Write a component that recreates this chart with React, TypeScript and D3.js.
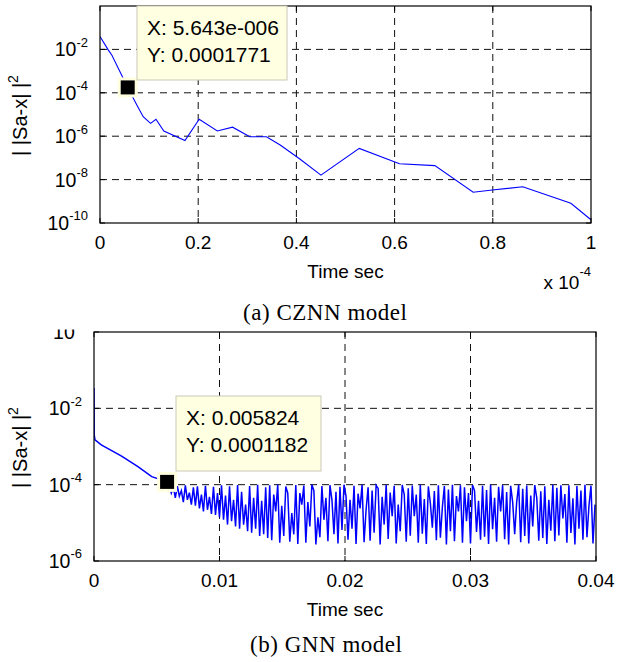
import React from 'react';
import * as d3 from 'd3';

// (a) CZNN model: time in units of 1e-4 s
const cznnTime = [0, 0.017, 0.024, 0.05643, 0.075, 0.088, 0.103, 0.114, 0.13, 0.173, 0.202, 0.239, 0.27, 0.305,
  0.339, 0.367, 0.407, 0.45, 0.528, 0.61, 0.682, 0.76, 0.799, 0.861, 0.959, 1.0];
const cznnErr = [3.9e-2, 9.3e-3, 5.5e-3, 1.771e-4, 2.75e-5, 7.9e-6, 3.9e-6, 6.0e-6, 1.74e-6, 6.3e-7, 6.0e-6, 1.74e-6,
  2.6e-6, 9.5e-7, 9.5e-7, 3.9e-7, 8.9e-8, 1.6e-8, 2.75e-7, 5.4e-8, 4.4e-8, 2.6e-9, 3.3e-9, 4.7e-9, 8.1e-10, 1.4e-10];
const cznnXTicks = [0, 0.2, 0.4, 0.6, 0.8, 1];
const cznnYExp = [-2, -4, -6, -8, -10];

// (b) GNN model: smooth start, then oscillation
const gnnHeadTime = [0, 0.00002, 0.00008, 0.00058, 0.0022, 0.0035, 0.0046, 0.005824];
const gnnHeadErr = [3.4e-2, 2.0e-3, 1.5e-3, 1.1e-3, 5.6e-4, 2.95e-4, 1.62e-4, 1.182e-4];
const gnnNoiseStart = 0.006;
const gnnNoiseStep = 0.00016;
// oscillating error in units of 1e-6
const gnnNoiseMicro = [
  95, 60, 88, 45, 92, 50, 70, 35, 96, 40, 62, 30, 85, 28, 90, 24, 55, 20, 94, 22, 48, 17, 88, 16, 60,
  14, 97, 12, 52, 9, 90, 11, 40, 8, 98, 7, 65, 9, 30, 6, 92, 5.5, 45, 7, 99, 4.5, 38, 5, 85, 4,
  96, 3.5, 55, 20, 100, 3, 28, 4.5, 90, 60,
  3.2, 18, 5, 98, 2.8, 60, 30, 95, 3, 35,
  8, 99, 70, 2.7, 14, 4.2, 92, 12, 45, 3.3,
  97, 40, 5, 65, 2.9, 88, 6.5, 100, 50, 3.6,
  40, 7, 94, 2.8, 58, 24, 99, 3.1, 22, 85,
  3.4, 70, 5.5, 96, 80, 2.7, 48, 9, 100, 3.8,
  62, 15, 93, 2.9, 30, 6, 98, 55, 3.2, 80,
  4.6, 95, 15, 55, 3, 99, 5.2, 42, 2.8, 90,
  33, 7.5, 68, 3.5, 97, 4.1, 26, 92, 2.7, 75,
  6, 100, 3.3, 50, 20, 96, 3, 85, 11, 60,
  2.9, 98, 70, 5.8, 38, 3.6, 94, 4.3, 72, 2.8,
  99, 6.8, 45, 3.2, 88, 20, 97, 3.7, 64, 2.7,
  93, 35, 5, 35, 100, 3.1, 78, 4.5, 95, 2.9,
  52, 8, 98, 45, 3.4, 67, 4, 91, 2.8, 40,
  6.2, 99, 3.3, 83, 4.7, 96, 13, 57, 3, 97,
  5.4, 44, 2.7, 92, 7, 70, 3.6, 100, 4.2, 28,
  94, 2.9, 30,
];
const gnnXTicks = [0, 0.01, 0.02, 0.03, 0.04];
const gnnYExp = [0, -2, -4, -6];

const FONT = 'Arial, "Liberation Sans", sans-serif';
const SERIF = '"Times New Roman", "Liberation Serif", serif';

type Pt = [number, number];

function Panel({ x, y, pts, xTicks, yExp, fmt, tip, id, topClip, lw }: {
  x: d3.ScaleLinear<number, number>; y: d3.ScaleLogarithmic<number, number>; pts: Pt[];
  xTicks: number[]; yExp: number[]; fmt: (v: number) => string;
  tip: { x: string; y: string; box: [number, number, number, number]; pt: Pt }; id: string; topClip?: number; lw: number;
}) {
  const [x0, x1] = x.range();
  const [y1, y0] = y.range();
  const line = d3.line<Pt>().x(d => x(d[0])).y(d => y(d[1]));
  const [bx, by, bw, bh] = tip.box;
  const mx = x(tip.pt[0]);
  const my = y(tip.pt[1]);
  return (
    <g>
      <defs>
        <clipPath id={id}><rect x={x0} y={y0} width={x1 - x0} height={y1 - y0} /></clipPath>
        {topClip !== undefined && <clipPath id={id + 'l'}><rect x={0} y={topClip} width={100} height={300} /></clipPath>}
      </defs>
      {xTicks.slice(1, -1).map(t => (
        <line key={'gx' + t} x1={x(t)} x2={x(t)} y1={y0} y2={y1} stroke="#111" strokeDasharray="7,5" />
      ))}
      {yExp.filter(e => y(10 ** e) > y0 + 1 && y(10 ** e) < y1 - 1).map(e => (
        <line key={'gy' + e} x1={x0} x2={x1} y1={y(10 ** e)} y2={y(10 ** e)} stroke="#111" strokeDasharray="7,5" />
      ))}
      <path d={line(pts) || ''} fill="none" stroke="#0000ff" strokeWidth={lw} clipPath={`url(#${id})`} />
      <rect x={x0} y={y0} width={x1 - x0} height={y1 - y0} fill="none" stroke="#000" strokeWidth={1.2} />
      {xTicks.map(t => (
        <g key={'tx' + t}>
          <line x1={x(t)} x2={x(t)} y1={y1} y2={y1 - 5} stroke="#000" />
          <line x1={x(t)} x2={x(t)} y1={y0} y2={y0 + 5} stroke="#000" />
          <text x={x(t)} y={y1 + 26} textAnchor="middle" fontFamily={FONT} fontSize={19}>{fmt(t)}</text>
        </g>
      ))}
      <g clipPath={topClip !== undefined ? `url(#${id}l)` : undefined}>
        {yExp.map(e => (
          <g key={'ty' + e}>
            <line x1={x0} x2={x0 + 5} y1={y(10 ** e)} y2={y(10 ** e)} stroke="#000" />
            <line x1={x1} x2={x1 - 5} y1={y(10 ** e)} y2={y(10 ** e)} stroke="#000" />
            <text x={x0 - 12} y={y(10 ** e) + 7} textAnchor="end" fontFamily={FONT} fontSize={19.5}>
              10<tspan fontSize={13} dy={-9.6}>{e}</tspan>
            </text>
          </g>
        ))}
      </g>
      <text transform={`translate(27,${(y0 + y1) / 2 + 1}) rotate(-90)`} textAnchor="middle" fontFamily={FONT} fontSize={20}
        style={{ whiteSpace: 'pre' }}>
        {'| |Sa-x| |'}<tspan fontSize={14} dy={-9}>2</tspan>
      </text>
      <text x={(x0 + x1) / 2} y={y1 + 55} textAnchor="middle" fontFamily={FONT} fontSize={19}>Time sec</text>
      <rect x={mx - 10} y={my - 10} width={20} height={20} fill="#ffffe0" />
      <rect x={mx - 7} y={my - 7} width={14} height={14} fill="#000" />
      <rect x={bx} y={by} width={bw} height={bh} fill="#ffffe1" stroke="#c9c9b8" strokeWidth={1} />
      <text x={bx + 10} y={by + 28.5} fontFamily={FONT} fontSize={21}>{tip.x}</text>
      <text x={bx + 10} y={by + 56} fontFamily={FONT} fontSize={21}>{tip.y}</text>
    </g>
  );
}

export default function App() {
  const xa = d3.scaleLinear().domain([0, 1]).range([100, 591]);
  const ya = d3.scaleLog().domain([1e-10, 1]).range([223, 6]);
  const ptsA: Pt[] = cznnTime.map((t, i) => [t, cznnErr[i]]);

  const xb = d3.scaleLinear().domain([0, 0.04]).range([94, 596]);
  const yb = d3.scaleLog().domain([1e-6, 1]).range([561, 332]);
  const ptsB: Pt[] = [
    ...gnnHeadTime.map((t, i) => [t, gnnHeadErr[i]] as Pt),
    ...gnnNoiseMicro.map((v, i) => [gnnNoiseStart + i * gnnNoiseStep, v * 1e-6] as Pt),
  ];

  return (
    <svg width={618} height={662} style={{ position: 'absolute', left: 0, top: 0, background: '#fff' }}>
      <rect width={618} height={662} fill="#fff" />
      <Panel id="ca" x={xa} y={ya} pts={ptsA} xTicks={cznnXTicks} yExp={cznnYExp} fmt={d3.format('~g')} lw={1.1}
        tip={{ x: 'X: 5.643e-006', y: 'Y: 0.0001771', box: [137, 6, 150, 74], pt: [cznnTime[3], cznnErr[3]] }} />
      <text x={591} y={289} textAnchor="end" fontFamily={FONT} fontSize={19}>
        x 10<tspan fontSize={13} dy={-13}>-4</tspan>
      </text>
      <text x={325} y={320} textAnchor="middle" fontFamily={SERIF} fontSize={23} textLength={164} lengthAdjust="spacing">(a) CZNN model</text>

      <Panel id="cb" x={xb} y={yb} pts={ptsB} xTicks={gnnXTicks} yExp={gnnYExp} fmt={d3.format('~g')} topClip={329.5} lw={1.5}
        tip={{ x: 'X: 0.005824', y: 'Y: 0.0001182', box: [176, 396, 145, 75], pt: [gnnHeadTime[7], gnnHeadErr[7]] }} />
      <text x={326} y={652} textAnchor="middle" fontFamily={SERIF} fontSize={23} textLength={152} lengthAdjust="spacing">(b) GNN model</text>
    </svg>
  );
}
